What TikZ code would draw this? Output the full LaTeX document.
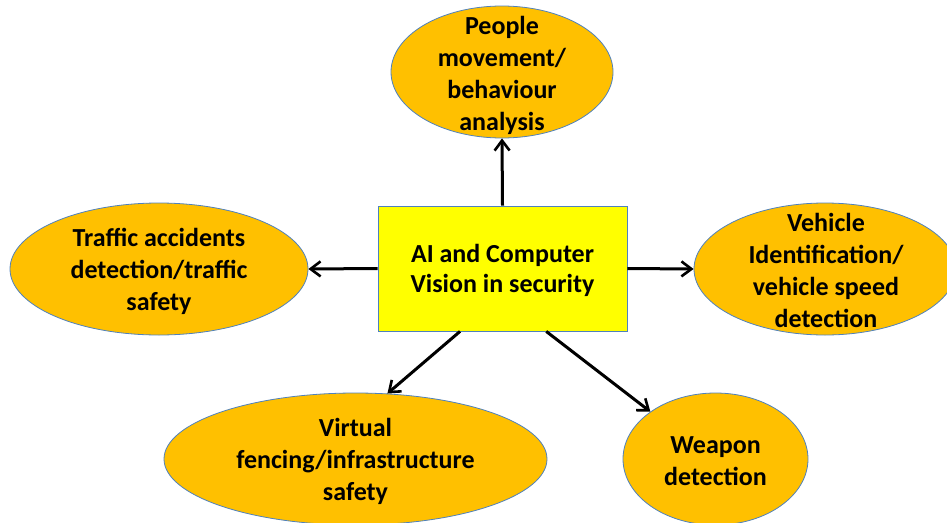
\documentclass[tikz,border=0pt]{standalone}
\usepackage{fontspec}
\setmainfont{Carlito}
\usetikzlibrary{shapes.geometric,arrows.meta,calc}
\definecolor{bubble}{HTML}{FFC000}
\definecolor{rim}{HTML}{4F81BD}
\definecolor{hub}{HTML}{FFFF00}
\tikzset{
  bubble/.style={ellipse,draw=rim,fill=bubble,line width=0.8pt,inner sep=0pt},
  hubbox/.style={rectangle,draw=rim,fill=hub,line width=0.8pt,inner sep=0pt,
    minimum width=249pt,minimum height=125pt},
  words/.style={align=center,inner sep=0pt,
    font=\fontsize{26pt}{32pt}\selectfont\bfseries},
  link/.style={line width=3pt,-{Straight Barb[length=10pt,width=15pt,line width=2.6pt]}}
}
\begin{document}
\begin{tikzpicture}[x=1pt,y=-1pt]
  \useasboundingbox (0,0) rectangle (947,522);

  % central topic
  \node[hubbox] (hub) at (502.5,268.5) {};
  \node[words,font=\fontsize{26pt}{30pt}\selectfont\bfseries] (hubtext) at (502.5,270)
    {AI and Computer\\Vision in security};

  % surrounding application areas
  \node[bubble,minimum width=222pt,minimum height=132pt] (people) at (502,72) {};
  \node[words] (peopletext) at (502,75) {People\\movement/\\behaviour\\analysis};

  \node[bubble,minimum width=298pt,minimum height=132pt] (traffic) at (159,269) {};
  \node[words] (traffictext) at (159,271) {Traffic accidents\\detection/traffic\\safety};

  \node[bubble,minimum width=262pt,minimum height=132pt] (vehicle) at (825,269) {};
  \node[words] (vehicletext) at (826,270) {Vehicle\\Identification/\\vehicle speed\\detection};

  \node[bubble,minimum width=383pt,minimum height=132pt] (fence) at (355.5,459) {};
  \node[words] (fencetext) at (355.5,461) {Virtual\\fencing/infrastructure\\safety};

  \node[bubble,minimum width=185pt,minimum height=132pt] (weapon) at (715.5,459) {};
  \node[words] (weapontext) at (715.5,461) {Weapon\\detection};

  % connectors from the central topic
  \coordinate (hubsw) at ($(hub.south west)!0.33!(hub.south east)$);
  \coordinate (hubse) at ($(hub.south west)!0.675!(hub.south east)$);
  \draw[link] (hub.north) -- (people.south);
  \draw[link] (hub.west) -- (traffic.east);
  \draw[link] (hub.east) -- (vehicle.west);
  \draw[link] (hubsw) -- (fence.64.5);
  \draw[link] (hubse) -- (weapon.144.3);
\end{tikzpicture}
\end{document}
